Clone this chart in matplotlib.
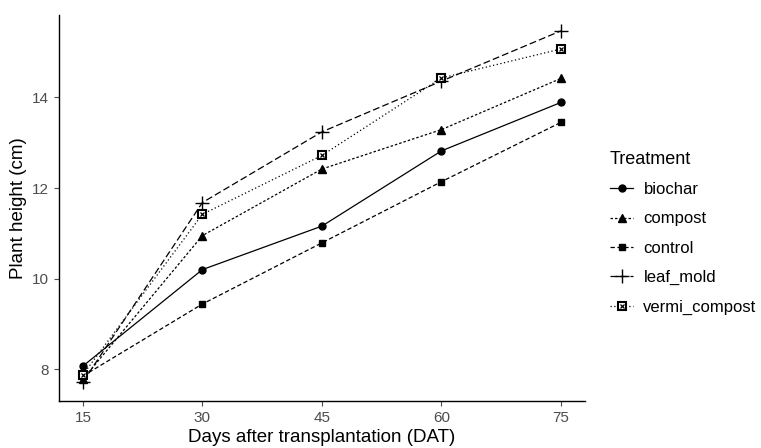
import matplotlib.pyplot as plt
from matplotlib.legend_handler import HandlerTuple

plt.rcParams['font.family'] = ['Liberation Sans', 'DejaVu Sans']

# Data
days = [15, 30, 45, 60, 75]
treatments = ['biochar', 'compost', 'control', 'leaf_mold', 'vermi_compost']
biochar = [8.07, 10.20, 11.16, 12.82, 13.89]
compost = [7.78, 10.95, 12.42, 13.29, 14.42]
control = [7.85, 9.44, 10.79, 12.14, 13.45]
leaf_mold = [7.72, 11.68, 13.24, 14.36, 15.47]
vermi_compost = [7.88, 11.42, 12.72, 14.43, 15.07]
heights = [biochar, compost, control, leaf_mold, vermi_compost]

styles = {
    'biochar': dict(ls='-', marker='o', ms=5),
    'compost': dict(ls=(0, (2, 1.6)), marker='^', ms=5.5),
    'control': dict(ls=(0, (3.5, 2)), marker='s', ms=5),
    'leaf_mold': dict(ls=(0, (5.5, 2.5)), marker='+', ms=10, mew=1),
    'vermi_compost': dict(ls=(0, (1, 2)), marker='s', ms=6, mfc='white', mew=1.5),
}

fig = plt.figure(figsize=(7.61, 4.48), dpi=100)
ax = fig.add_axes([0.0775, 0.105, 0.691, 0.8615])

handles = []
for name, vals in zip(treatments, heights):
    st = styles[name]
    ln, = ax.plot(days, vals, color='black', lw=0.9, **st)
    if name == 'vermi_compost':
        x, = ax.plot(days, vals, ls='none', marker='x', ms=3, mew=0.9, color='black')
        handles.append((ln, x))
    else:
        handles.append(ln)

ax.set_xlim(12, 78)
ax.set_ylim(7.3, 15.82)
ax.set_xticks(days)
ax.set_yticks([8, 10, 12, 14])
ax.tick_params(colors='#4d4d4d', labelsize=11, length=3.5, width=0.8)
for lab in ax.get_xticklabels() + ax.get_yticklabels():
    lab.set_color('#4d4d4d')
for s in ['top', 'right']:
    ax.spines[s].set_visible(False)
for s in ['left', 'bottom']:
    ax.spines[s].set_linewidth(1.0)
ax.set_xlabel('Days after transplantation (DAT)', fontsize=13.5, labelpad=3)
ax.set_ylabel('Plant height (cm)', fontsize=13.5, labelpad=4)

leg = fig.legend(handles, treatments, loc='upper left', bbox_to_anchor=(0.782, 0.697),
                 title='Treatment', title_fontsize=13, fontsize=12, frameon=False,
                 handlelength=1.4, handletextpad=0.6, labelspacing=0.86,
                 handler_map={tuple: HandlerTuple(ndivide=1, pad=0)})
leg._legend_box.align = 'left'

fig.savefig('out.png', dpi=100)
